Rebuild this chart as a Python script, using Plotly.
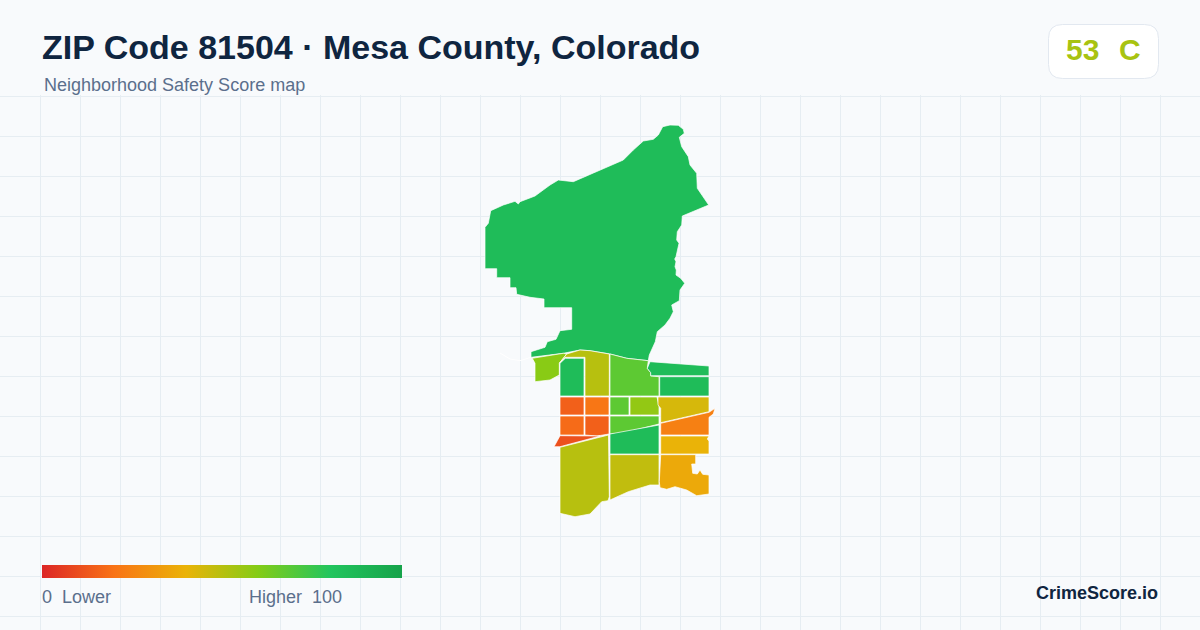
import plotly.graph_objects as go
from plotly.colors import hex_to_rgb, sample_colorscale

title_text = "ZIP Code 81504 · Mesa County, Colorado"
subtitle_text = "Neighborhood Safety Score map"
overall_score = 53
overall_grade = "C"
brand_text = "CrimeScore.io"

score_stops = [0, 0.2, 0.4, 0.6, 0.8, 1]
score_colors = ["#dc2626", "#f97316", "#eab308", "#84cc16", "#22c55e", "#16a34a"]

# neighborhood scores, same order as the outlines below
tract_scores = [85, 59, 85, 50, 68, 85, 85, 15, 21, 18, 15, 11, 68, 57, 68, 44, 24, 40, 85, 50, 48, 37]

# outlines
tract_outlines = [
    # north, the big one
    [(662.7, 126.7), (670, 125), (678.3, 125.3), (683.3, 129.3), (684.3, 133.3), (679.3, 137.3), (681.7, 146.7),
     (688.3, 156.7), (690, 165), (696.7, 173.3), (697.3, 188.3), (708.7, 205), (682.3, 216), (681.7, 225),
     (677.3, 231.7), (676.7, 240), (679, 243.3), (676.7, 253.3), (676, 256.7), (674.7, 259), (676, 261.7),
     (675, 266.7), (676.3, 270), (676, 275), (680.7, 278.3),
     (684.7, 283.3), (680, 290), (679.3, 300.7), (671.7, 305), (673.3, 311.7), (670, 318.3), (665, 325),
     (657.3, 331.7), (655.3, 341.7), (649.3, 355), (648.3, 360.7), (626.7, 358.3), (610, 354), (590, 350.7),
     (580, 350), (563.3, 353.3), (531, 357.3), (531, 351.7), (545, 347.3), (547.3, 341.7), (556, 339.3),
     (560, 330.7), (571.7, 329.3), (571.7, 307.7), (544, 307.7), (544, 299), (530, 297.3), (516.7, 294.3),
     (516, 287.7), (510, 287.7), (510, 277.7), (496.7, 277.7), (496.7, 268.7), (485, 268.7), (485, 227.3),
     (488.3, 223.3), (490.7, 210.7), (503.3, 205), (515, 201.3), (518.3, 204), (520, 201.7), (535, 196),
     (550, 185), (558.3, 180), (573.3, 181.7), (603.3, 168.3), (623.3, 160), (633.3, 150), (643.3, 141),
     (653.3, 139.3), (658.3, 135)],
    # west lime
    [(532.3, 358.3), (535, 363.3), (535, 381.7), (550, 380), (559.3, 375), (559.3, 363.3), (566.7, 354),
     (563.3, 353.3)],
    # top row
    [(560, 396), (560, 363.3), (565.3, 358.3), (584, 358.3), (584, 396)],
    [(559.5, 363), (566.7, 354), (580, 350), (590, 350.7), (609.3, 354), (609.3, 396), (585, 396), (585, 357.3),
     (565, 357.3)],
    [(610, 354), (626.7, 358.3), (648.3, 360.7), (647.3, 368.3), (650.7, 372.7), (650.7, 376), (659, 376.7),
     (659, 396), (610, 396)],
    [(650, 361.7), (709, 366), (709, 375.7), (650.7, 375.7), (650.7, 372.7), (647.3, 368.3)],
    [(659.7, 376.7), (709, 376.7), (709, 396), (659.7, 396)],
    # orange blocks
    [(560, 397), (584, 397), (584, 415), (560, 415)],
    [(585, 397), (609, 397), (609, 415), (585, 415)],
    [(560, 416), (584, 416), (584, 435), (560, 435)],
    [(585, 416), (609, 416), (609, 434), (597, 436), (585, 435)],
    [(557.3, 440.7), (560, 435.7), (600, 436), (560, 446.7), (554, 446.7)],
    # middle
    [(610, 397), (629, 397), (629, 415), (610, 415)],
    [(630, 397), (657, 397), (659, 406.7), (659, 415), (630, 415)],
    [(610, 416), (659, 416), (659, 424), (623, 433), (610, 434)],
    # east side
    [(658, 397), (709, 397), (709, 411.7), (660.7, 422.7), (660.7, 408.3), (658, 405)],
    [(660.7, 423.3), (709, 412.3), (715, 408.3), (713.3, 414), (709, 417.3), (709, 435), (660.7, 435)],
    [(660.7, 436), (709, 436), (707.3, 439), (709, 441), (709, 454), (660.7, 454)],
    [(610, 434), (659, 425), (659, 454), (610, 454)],
    # south
    [(560, 447.3), (608.5, 435), (609.3, 496.7), (608, 500.7), (601.7, 501.7), (590, 514), (575, 516.7),
     (560, 513.3)],
    [(610, 454.7), (659, 454.7), (659, 485), (650, 485), (628.3, 491.7), (610, 500)],
    [(660.7, 454.7), (695.7, 454.7), (695.7, 464), (691.7, 464), (692.7, 473.3), (697.3, 474), (700, 470),
     (702.7, 474.3), (709, 475), (709, 494), (696.7, 495.7), (686.7, 490), (675, 486.7), (666.7, 489.3),
     (660, 487.7), (659.3, 481.7)],
]

# thin sliver west of the lime tract, only its white outline shows
sliver_x = [500, 510, 520, 531]
sliver_y = [353, 359, 360.7, 357.3]

colorscale = [[s, "rgb(%d,%d,%d)" % hex_to_rgb(c)] for s, c in zip(score_stops, score_colors)]
INK = "#0f2540"
SLATE = "#5b6f8c"

fig = go.Figure()

for outline, score in zip(tract_outlines, tract_scores):
    fig.add_trace(
        go.Scatter(
            x=[p[0] for p in outline] + [outline[0][0]],
            y=[p[1] for p in outline] + [outline[0][1]],
            mode="lines",
            fill="toself",
            fillcolor=sample_colorscale(colorscale, score / 100)[0],
            line=dict(color="white", width=0.7),
            showlegend=False,
            hoverinfo="skip",
        )
    )

fig.add_trace(
    go.Scatter(x=sliver_x, y=sliver_y, mode="lines", line=dict(color="white", width=1), showlegend=False)
)

# dummy trace, only there for the gradient bar
fig.add_trace(
    go.Scatter(
        x=[None, None],
        y=[None, None],
        mode="markers",
        showlegend=False,
        marker=dict(
            color=[0, 100],
            cmin=0,
            cmax=100,
            colorscale=colorscale,
            showscale=True,
            colorbar=dict(
                orientation="h",
                lenmode="pixels",
                len=360,
                thicknessmode="pixels",
                thickness=13,
                x=42 / 1200,
                xanchor="left",
                y=52 / 630,
                yanchor="bottom",
                xpad=0,
                ypad=0,
                outlinewidth=0,
                showticklabels=False,
                ticks="",
            ),
        ),
    )
)

# score badge
fig.add_shape(
    type="path",
    xref="paper",
    yref="paper",
    path=(
        "M %f %f L %f %f Q %f %f %f %f L %f %f Q %f %f %f %f L %f %f Q %f %f %f %f L %f %f Q %f %f %f %f Z"
        % (
            1062.5 / 1200, 605.5 / 630,
            1144.5 / 1200, 605.5 / 630,
            1158.5 / 1200, 605.5 / 630, 1158.5 / 1200, 591.5 / 630,
            1158.5 / 1200, 565.5 / 630,
            1158.5 / 1200, 551.5 / 630, 1144.5 / 1200, 551.5 / 630,
            1062.5 / 1200, 551.5 / 630,
            1048.5 / 1200, 551.5 / 630, 1048.5 / 1200, 565.5 / 630,
            1048.5 / 1200, 591.5 / 630,
            1048.5 / 1200, 605.5 / 630, 1062.5 / 1200, 605.5 / 630,
        )
    ),
    fillcolor="white",
    line=dict(color="#e2e8f0", width=1),
)


def add_text(text, px, py, size, color, bold=False, anchor="left"):
    fig.add_annotation(
        text="<b>%s</b>" % text if bold else text,
        xref="paper",
        yref="paper",
        x=px / 1200,
        y=1 - py / 630,
        xanchor=anchor,
        yanchor="middle",
        showarrow=False,
        align=anchor,
        borderpad=0,
        font=dict(family="Liberation Sans", size=size, color=color),
    )


sample = sample_colorscale(colorscale, overall_score / 100)[0]
add_text(title_text, 41, 47, 34, INK, bold=True)
add_text(subtitle_text, 43, 85, 18, SLATE)
add_text(str(overall_score), 1065, 50, 30, sample, bold=True)
add_text(overall_grade, 1118, 50, 30, sample, bold=True)
add_text("0", 41, 597, 18, SLATE)
add_text("Lower", 61, 597, 18, SLATE)
add_text("Higher", 248, 597, 18, SLATE)
add_text("100", 311, 597, 18, SLATE)
add_text(brand_text, 1159, 593, 18, INK, bold=True, anchor="right")

fig.update_xaxes(
    range=[0, 1200],
    tick0=0.5,
    dtick=40,
    showgrid=True,
    gridcolor="#e6edf2",
    gridwidth=1,
    zeroline=False,
    showticklabels=False,
    ticks="",
    showline=False,
    fixedrange=True,
)
fig.update_yaxes(
    range=[630, 95],
    domain=[0, 535 / 630],
    tick0=96.5,
    dtick=40,
    showgrid=True,
    gridcolor="#e6edf2",
    gridwidth=1,
    zeroline=False,
    showticklabels=False,
    ticks="",
    showline=False,
    fixedrange=True,
)
fig.update_layout(
    width=1200,
    height=630,
    margin=dict(l=0, r=0, t=0, b=0, autoexpand=False),
    paper_bgcolor="#f8fafc",
    plot_bgcolor="#f8fafc",
    showlegend=False,
)

# the default page margin would push the plot 8px in
fig.write_html("out.html", config={"displayModeBar": False}, post_script="document.body.style.margin='0';")
